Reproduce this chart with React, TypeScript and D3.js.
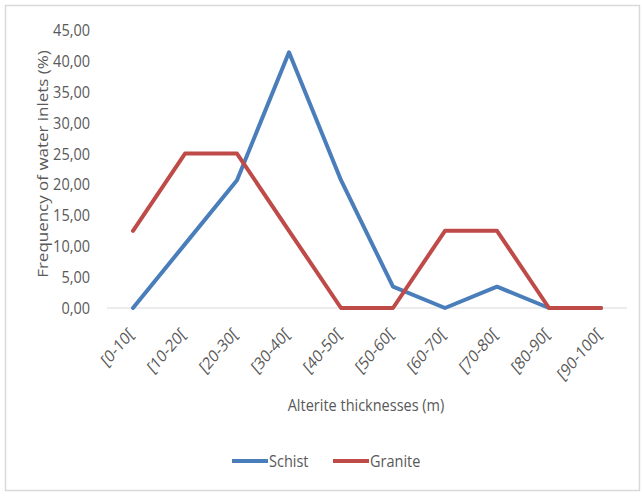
import React from "react";
import * as d3 from "d3";

const categories = ["[0-10[", "[10-20[", "[20-30[", "[30-40[", "[40-50[", "[50-60[", "[60-70[", "[70-80[", "[80-90[", "[90-100["];
const schist = [0, 10.34, 20.69, 41.38, 20.69, 3.45, 0, 3.45, 0, 0];
const granite = [12.5, 25, 25, 12.5, 0, 0, 12.5, 12.5, 0, 0];
const yTicks = [0, 5, 10, 15, 20, 25, 30, 35, 40, 45];
const seriesNames = ["Schist", "Granite"];
const seriesColors = ["#4A7EBB", "#BE4B48"];

const W = 643;
const H = 494;
const FONT = "'Open Sans', 'Noto Sans', sans-serif";
const TXT = "#595959";
const SY = 1.17;
const FS = 14.5;

export default function App() {
  const x = d3.scaleBand<string>().domain(categories).range([107, 627]);
  const y = d3.scaleLinear().domain([0, 45]).range([308, 30]);
  const cx = (c: string) => (x(c) as number) + x.bandwidth() / 2;
  const line = d3
    .line<number>()
    .x((_, i) => cx(categories[i]))
    .y((d) => y(d));
  const fmt = (v: number) => v.toFixed(2).replace(".", ",");
  const series = [schist, granite];
  const legendX = [232, 333];

  return (
    <svg
      width={W}
      height={H}
      style={{ position: "absolute", left: 0, top: 0, display: "block", background: "#fff" }}
      fontFamily={FONT}
    >
      <rect x={5.5} y={5.5} width={634} height={485} fill="#fff" stroke="#d9d9d9" strokeWidth={1.5} />
      {yTicks.map((t) => (
        <text
          key={t}
          transform={`translate(90,${y(t)}) scale(1,${SY})`}
          dy="0.35em"
          textAnchor="end"
          fontSize={FS}
          fill={TXT}
        >
          {fmt(t)}
        </text>
      ))}
      <line x1={107} x2={627} y1={y(0)} y2={y(0)} stroke="#d9d9d9" strokeWidth={1} />
      {categories.map((c) => (
        <text
          key={c}
          transform={`translate(${cx(c) - 2},${y(0) + 23}) scale(1,${SY}) rotate(-45)`}
          textAnchor="end"
          dy="0.35em"
          fontSize={FS}
          fill={TXT}
        >
          {c}
        </text>
      ))}
      {series.map((s, i) => (
        <path
          key={i}
          d={line(s) as string}
          fill="none"
          stroke={seriesColors[i]}
          strokeWidth={4}
          strokeLinejoin="round"
          strokeLinecap="round"
        />
      ))}
      <text
        transform={`translate(43,164) scale(1,${SY}) rotate(-90)`}
        textAnchor="middle"
        dy="0.35em"
        fontSize={FS}
        fill={TXT}
      >
        Frequency of water inlets (%)
      </text>
      <text
        transform={`translate(366,405) scale(1,${SY})`}
        textAnchor="middle"
        dy="0.35em"
        fontSize={FS}
        fill={TXT}
      >
        Alterite thicknesses (m)
      </text>
      {seriesNames.map((n, i) => (
        <g key={n}>
          <line x1={legendX[i]} x2={legendX[i] + 36} y1={461} y2={461} stroke={seriesColors[i]} strokeWidth={4} />
          <text
            transform={`translate(${legendX[i] + 37},461) scale(1,${SY})`}
            dy="0.35em"
            fontSize={FS}
            fill={TXT}
          >
            {n}
          </text>
        </g>
      ))}
    </svg>
  );
}
